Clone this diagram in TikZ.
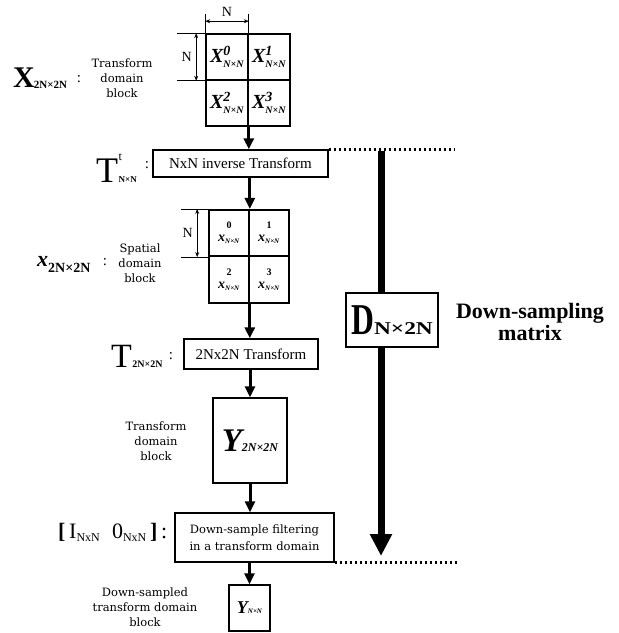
\documentclass[tikz,border=0pt]{standalone}
\usepackage{fontspec}
\usepackage{amsmath}
\usepackage{graphicx}
\setmainfont{Liberation Serif}
\newfontfamily\notefont{DejaVu Serif}
\usetikzlibrary{arrows.meta,positioning}
\newcommand{\fsz}[1]{\fontsize{#1}{#1}\selectfont}
\newcommand{\bi}[1]{\text{\bfseries\itshape #1}}
\newcommand{\cellX}[1]{$\bi{X}^{\bi{#1}}_{\scriptscriptstyle\bi{N×N}}$}
\newcommand{\cellx}[1]{{\fsz{10}\bfseries #1}\\[-1pt]$\bi{x}_{\scriptscriptstyle\bi{N×N}}$}

\begin{document}
\begin{tikzpicture}[x=1pt, y=-1pt,
  every node/.style={inner sep=0pt, font=\fsz{15}},
  cellbig/.style={draw, line width=1.6pt, minimum width=42pt, minimum height=46pt, font=\fsz{20}},
  cellsmall/.style={draw, line width=1.6pt, minimum width=40pt, minimum height=46.5pt, align=center, font=\fsz{14}},
  opbox/.style={draw, line width=1.4pt, align=center},
  note/.style={align=center, font=\notefont\fontsize{11.5}{15}\selectfont},
  arr/.style={-{Triangle[width=10pt,length=11pt]}, line width=3pt},
  bigarr/.style={-{Triangle[width=21pt,length=22pt]}, line width=7pt},
  dimarr/.style={{Stealth[length=5pt,width=4pt]}-{Stealth[length=5pt,width=4pt]}, line width=0.7pt},
  extline/.style={line width=0.7pt},
  dotline/.style={line width=2.5pt, dash pattern=on 1.8pt off 3.2pt},
]
\useasboundingbox (0,0) rectangle (619,633);

% transform domain block
\node[cellbig] (xa0) at (227,57)  {\cellX{0}};
\node[cellbig] (xa1) at (269,57)  {\cellX{1}};
\node[cellbig] (xa2) at (227,103) {\cellX{2}};
\node[cellbig] (xa3) at (269,103) {\cellX{3}};
\draw[extline] (xa0.north west) -- ++(0,-19);
\draw[extline] (xa0.north east) -- ++(0,-19);
\draw[dimarr] ([yshift=12pt]xa0.north west) -- node[above=4pt, font=\fsz{14}] (ntop) {N} ([yshift=12pt]xa0.north east);
\draw[extline] (xa0.north west) -- ++(-28,0);
\draw[extline] (xa0.south west) -- ++(-28,0);
\draw[dimarr] ([xshift=-9pt]xa0.north west) -- node[left=4pt, font=\fsz{14}] (nleft) {N} ([xshift=-9pt]xa0.south west);
\node[anchor=base west, font=\fsz{30}\bfseries] (lX) at (13,87) {X\kern-1pt\raisebox{-1pt}{\fsz{11}2N×2N}};
\node (cX) at (79,79) {:};
\node[note] (nX) at (122,78) {Transform\\domain\\block};

% inverse transform
\node[opbox, minimum width=175pt, minimum height=27pt] (inv) at (240.5,163.5) {NxN inverse Transform};
\node[anchor=base west, font=\fsz{36}] (lT) at (96,182) {T\kern0.5pt\rlap{\raisebox{22pt}{\fsz{12}t}}{\fsz{9}\bfseries N×N}};
\node (cT) at (147,165) {:};
\draw[arr] (xa2.south east) -- (xa2.south east |- inv.north);

% spatial domain block
\node[cellsmall] (xs0) at (229,233)   {\cellx{0}};
\node[cellsmall] (xs1) at (269,233)   {\cellx{1}};
\node[cellsmall] (xs2) at (229,279.5) {\cellx{2}};
\node[cellsmall] (xs3) at (269,279.5) {\cellx{3}};
\draw[arr] (xs0.north east |- inv.south) -- (xs0.north east);
\draw[extline] (xs0.north west) -- ++(-27,0);
\draw[extline] (xs0.south west) -- ++(-27,0);
\draw[dimarr] ([xshift=-11pt]xs0.north west) -- node[left=4pt, font=\fsz{14}] (nleft2) {N} ([xshift=-11pt]xs0.south west);
\node[anchor=base west, font=\fsz{22}\bfseries\itshape] (lx) at (37,266) {x\raisebox{-6pt}{\fsz{14}\upshape 2N×2N}};
\node (cx) at (105,262) {:};
\node[note] (nx) at (140,263) {Spatial\\domain\\block};

% forward transform
\node[opbox, minimum width=134pt, minimum height=30pt] (fwd) at (251,354) {2Nx2N Transform};
\node[anchor=base west, font=\fsz{34}] (lT2) at (111,367) {T\kern0.5pt{\fsz{10}\bfseries 2N×2N}};
\node (cT2) at (171,356) {:};
\draw[arr] (xs2.south east) -- (xs2.south east |- fwd.north);

\node[opbox, minimum width=74pt, minimum height=85pt] (ybig) at (250,440.5) {{\fsz{33}\bfseries\itshape Y}{\fsz{12}\bfseries\itshape 2N×2N}};
\node[note] (ny) at (156,441) {Transform\\domain\\block};
\draw[arr] (ybig.north |- fwd.south) -- (ybig.north);

% down-sample filtering
\node[opbox, minimum width=159pt, minimum height=49pt, font=\notefont\fontsize{11.5}{17}\selectfont] (filt) at (254.5,537.5) {Down-sample filtering\\in a transform domain};
\node[anchor=west, font=\fsz{22}] (lI) at (58,532) {\textbf{[}\,I\raisebox{-3pt}{\fsz{12}NxN}\;\;0\raisebox{-3pt}{\fsz{12}NxN}\,\textbf{]}\,:};
\draw[arr] (ybig.south) -- (ybig.south |- filt.north);

\node[opbox, minimum width=41pt, minimum height=46pt] (ysm) at (249.5,608) {{\fsz{18}\bfseries\itshape Y}{\fsz{7}\bfseries\itshape N×N}};
\node[note] (nysm) at (145,607) {Down-sampled\\transform domain\\block};
\draw[arr] (ysm.north |- filt.south) -- (ysm.north);

% down-sampling matrix
\coordinate (dtop) at (381,151);
\coordinate (dbot) at (381,556);
\coordinate (dotA) at (455,151);
\coordinate (dotB) at (459,561);
\node[opbox, fill=white, minimum width=92pt, minimum height=54pt] (dmat) at (392,320) {\fsz{44}\bfseries\scalebox{0.72}[1]{D}{\fsz{18}\scalebox{1.3}[1]{N×2N}}};
\draw[line width=7pt] (dtop) -- (dtop |- dmat.north);
\draw[bigarr] (dtop |- dmat.south) -- (dbot);
\draw[dotline] (inv.north east) -- (inv.north east -| dotA);
\draw[dotline] (filt.south east) -- (filt.south east -| dotB);
\node[align=center, font=\fontsize{22}{22}\selectfont\bfseries] (dlab) at (530,322) {Down-sampling\\matrix};
\end{tikzpicture}
\end{document}
